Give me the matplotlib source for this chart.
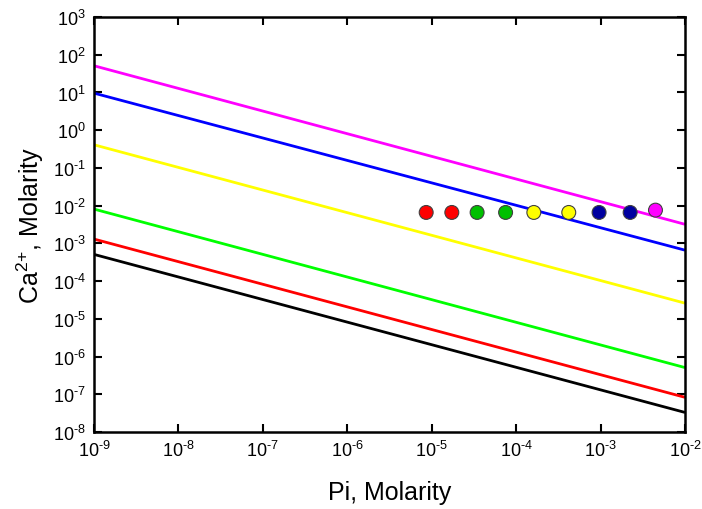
import matplotlib
matplotlib.use("Agg")
import matplotlib.pyplot as plt
from matplotlib.ticker import FixedLocator, NullLocator, FuncFormatter
import numpy as np

plt.rcParams['font.family'] = ['Liberation Sans', 'DejaVu Sans']
plt.rcParams['axes.unicode_minus'] = False
plt.rcParams['mathtext.fontset'] = 'custom'
plt.rcParams['mathtext.rm'] = 'Liberation Sans'
plt.rcParams['mathtext.it'] = 'Liberation Sans:italic'

# Tick exponents
x_exponents = [-9, -8, -7, -6, -5, -4, -3, -2]
y_exponents = [-8, -7, -6, -5, -4, -3, -2, -1, 0, 1, 2, 3]

# Solubility lines: values at the axis ends (x = 1e-9 and x = 1e-2)
line_x = [1e-9, 1e-2]
line_colors = ['#ff00ff', '#0000ff', '#ffff00', '#00ff00', '#ff0000', '#000000']
line_y = [
    [51, 3.2e-3],      # magenta
    [9.6, 6.6e-4],     # blue
    [0.41, 2.6e-5],    # yellow
    [8.1e-3, 5.1e-7],  # green
    [1.3e-3, 8.3e-8],  # red
    [5.1e-4, 3.3e-8],  # black
]

# Data points
pt_x = [8.6e-6, 1.73e-5, 3.45e-5, 7.5e-5, 1.62e-4, 4.2e-4, 9.6e-4, 2.24e-3, 4.47e-3]
pt_y = [6.6e-3, 6.6e-3, 6.6e-3, 6.6e-3, 6.6e-3, 6.6e-3, 6.6e-3, 6.6e-3, 7.6e-3]
pt_colors = ['#ff0000', '#ff0000', '#00c000', '#00c000', '#ffff00', '#ffff00',
             '#0000a0', '#0000a0', '#ff00ff']


def fmt(v, pos):
    e = int(round(np.log10(v)))
    if e < 0:
        return r'$\mathregular{10^{\text{-}%d}}$' % (-e)
    return r'$\mathregular{10^{%d}}$' % e


fig = plt.figure(figsize=(7.02, 5.10), dpi=100)
ax = fig.add_axes([94/702, 1-433/510, (685-94)/702, (433-18)/510])

for ys, c in zip(line_y, line_colors):
    ax.plot(line_x, ys, color=c, lw=2.0, solid_capstyle='butt')

ax.scatter(pt_x, pt_y, s=100, c=pt_colors, edgecolors='#404040', linewidths=0.8, zorder=5)

ax.set_xscale('log')
ax.set_yscale('log')
ax.set_xlim(1e-9, 1e-2)
ax.set_ylim(1e-8, 1e3)
ax.xaxis.set_major_locator(FixedLocator([10.0 ** e for e in x_exponents]))
ax.yaxis.set_major_locator(FixedLocator([10.0 ** e for e in y_exponents]))
ax.xaxis.set_minor_locator(NullLocator())
ax.yaxis.set_minor_locator(NullLocator())
ax.xaxis.set_major_formatter(FuncFormatter(fmt))
ax.yaxis.set_major_formatter(FuncFormatter(fmt))

ax.tick_params(which='major', direction='in', top=True, right=True, length=6, width=1.5,
               labelsize=13, pad=6)
for sp in ax.spines.values():
    sp.set_linewidth(1.8)

ax.set_xlabel('Pi, Molarity', fontsize=18, labelpad=14)
ax.set_ylabel('Ca$^{2}$$^{+}$, Molarity', fontsize=18, labelpad=5)

fig.savefig('out.png', dpi=100)
